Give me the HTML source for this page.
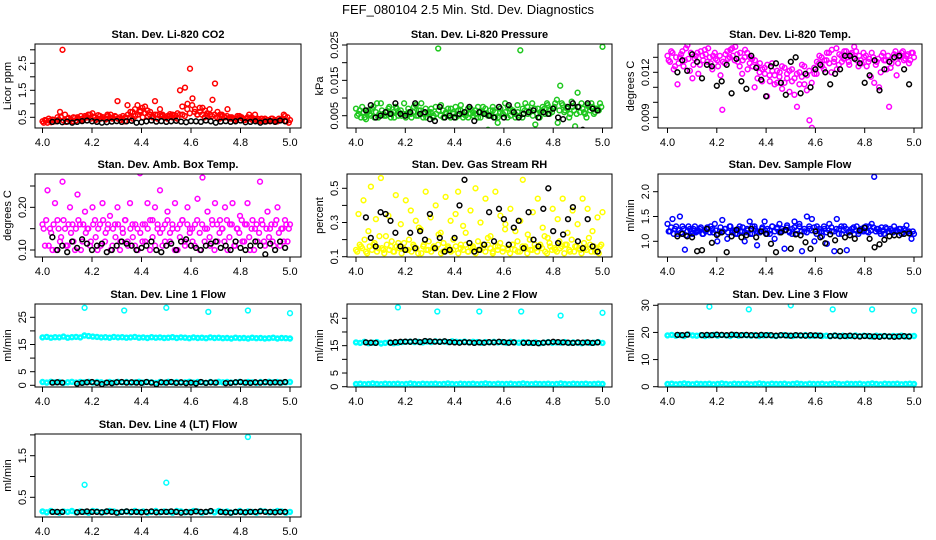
<!DOCTYPE html>
<html><head><meta charset="utf-8"><style>
html,body{margin:0;padding:0;background:#fff}
svg{display:block;font-family:"Liberation Sans",Arial,sans-serif}
</style></head><body>
<svg id="chart" width="936" height="540" viewBox="0 0 936 540">
<rect width="936" height="540" fill="#fff"/>
<text x="468" y="14" text-anchor="middle" font-size="13">FEF_080104  2.5 Min. Std. Dev. Diagnostics</text>
</svg>
<script>
const xTicks=[4.0,4.2,4.4,4.6,4.8,5.0];
const xTickLabels=["4.0","4.2","4.4","4.6","4.8","5.0"];
const co2Red=[0.35,0.4,0.3,0.38,0.42,0.35,0.5,0.7,3.0,0.6,0.45,0.4,0.35,0.48,0.5,0.4,0.45,0.55,0.5,0.6,0.65,0.5,0.45,0.55,0.5,0.45,0.6,0.5,0.45,0.55,1.1,0.5,0.45,0.35,0.95,0.5,0.7,0.8,0.95,0.7,0.85,0.9,0.75,0.6,0.55,1.1,0.6,0.8,0.55,0.5,0.45,0.55,0.6,0.5,0.65,1.5,0.6,1.6,1.0,2.3,1.2,0.8,0.6,0.7,0.85,0.75,0.55,0.6,1.15,1.75,0.7,0.6,0.55,0.5,0.8,0.5,0.45,0.4,0.55,0.5,0.45,0.4,0.5,0.45,0.4,0.6,0.45,0.4,0.35,0.45,0.4,0.35,0.45,0.4,0.35,0.4,0.45,0.55,0.5,0.4];
const co2Red2=[0.3,0.38,0.45,0.32,0.4,0.36,0.42,0.5,0.38,0.33,0.48,0.42,0.5,0.38,0.45,0.55,0.4,0.5,0.6,0.45,0.52,0.4,0.58,0.45,0.5,0.42,0.55,0.6,0.48,0.52,0.45,0.4,0.55,0.5,0.6,0.7,0.45,0.55,0.6,0.75,0.5,0.65,0.55,0.7,0.5,0.6,0.45,0.55,0.6,0.5,0.55,0.62,0.5,0.58,0.45,0.6,0.9,0.55,0.8,0.65,0.95,0.7,0.6,0.85,0.6,0.5,0.65,0.8,0.55,0.6,0.5,0.45,0.6,0.5,0.55,0.45,0.5,0.4,0.45,0.55,0.5,0.4,0.45,0.6,0.5,0.45,0.4,0.35,0.45,0.4,0.35,0.4,0.45,0.38,0.35,0.45,0.4,0.6,0.35,0.3];
const co2Black=[0.33,0.35,0.32,0.34,0.3,0.33,0.36,0.38,0.35,0.33,0.3,0.32,0.34,0.36,0.33,0.35,0.37,0.3,0.32,0.35,0.38,0.34,0.36,0.33,0.35,0.37,0.34,0.32,0.36,0.35,0.33,0.38,0.35,0.3,0.34,0.36,0.33,0.35,0.38,0.32,0.33,0.35,0.3,0.34,0.36,0.33,0.38,0.35];
const presGreen=[0.007,0.0055,0.0045,0.006,0.004,0.0065,0.005,0.0075,0.006,0.0045,0.0085,0.0055,0.005,0.007,0.0045,0.006,0.0075,0.005,0.0065,0.0055,0.0045,0.007,0.0055,0.006,0.008,0.005,0.0065,0.0045,0.007,0.0055,0.006,0.0045,0.0075,0.024,0.005,0.0065,0.0055,0.007,0.0045,0.006,0.0075,0.005,0.0065,0.0045,0.006,0.007,0.0055,0.005,0.0065,0.0045,0.006,0.0075,0.0055,0.001,0.005,0.0065,0.006,0.0045,0.007,0.0055,0.006,0.0075,0.005,0.0065,0.0045,0.006,0.0235,0.007,0.0085,0.0055,0.0065,0.005,0.0025,0.007,0.006,0.0075,0.0055,0.008,0.0065,0.007,0.0085,0.003,0.0135,0.008,0.0065,0.007,0.0055,0.0075,0.002,0.0115,0.006,0.007,0.0055,0.008,0.0065,0.0075,0.006,0.007,0.0085,0.0245];
const presGreen2=[0.005,0.0065,0.0075,0.0045,0.006,0.0055,0.007,0.0045,0.0085,0.0055,0.0065,0.005,0.006,0.0075,0.0055,0.0045,0.007,0.006,0.005,0.0085,0.0055,0.006,0.0045,0.0075,0.005,0.0065,0.0085,0.0055,0.0045,0.006,0.007,0.005,0.0055,0.0065,0.008,0.0045,0.006,0.005,0.007,0.0055,0.0045,0.0065,0.008,0.0055,0.005,0.0045,0.007,0.006,0.0055,0.0075,0.0045,0.006,0.007,0.005,0.0065,0.0075,0.0045,0.003,0.006,0.0055,0.0085,0.0045,0.007,0.006,0.0055,0.008,0.005,0.0045,0.0065,0.0075,0.006,0.0085,0.007,0.0055,0.0045,0.0065,0.007,0.0085,0.0055,0.006,0.0075,0.0095,0.0065,0.0085,0.006,0.0075,0.0045,0.009,0.0065,0.0055,0.0075,0.0085,0.006,0.0045,0.0075,0.0085,0.0055,0.007,0.0065,0.0075];
const presBlack=[0.0065,0.008,0.0045,0.005,0.006,0.0055,0.0085,0.0055,0.005,0.006,0.0085,0.0055,0.006,0.004,0.0035,0.0075,0.0045,0.005,0.0045,0.0055,0.006,0.0075,0.0035,0.006,0.0055,0.005,0.0045,0.0075,0.0045,0.008,0.006,0.0045,0.0055,0.006,0.0065,0.0045,0.006,0.0055,0.007,0.0045,0.004,0.0075,0.0085,0.0075,0.001,0.0085,0.007,0.0065];
const tempMag=[0.0131,0.0127,0.0133,0.0124,0.0112,0.0130,0.0134,0.0128,0.0138,0.0121,0.0116,0.0129,0.0133,0.0125,0.0131,0.0135,0.0127,0.0130,0.0122,0.0133,0.0128,0.0131,0.0095,0.0126,0.0134,0.0130,0.0136,0.0128,0.0132,0.0124,0.0119,0.0130,0.0133,0.0126,0.0129,0.0110,0.0124,0.0120,0.0114,0.0123,0.0104,0.0118,0.0126,0.0112,0.0121,0.0117,0.0124,0.0113,0.0119,0.0107,0.0122,0.0116,0.0097,0.0120,0.0125,0.0112,0.0118,0.0088,0.0083,0.0119,0.0127,0.0131,0.0124,0.0128,0.0133,0.0126,0.0135,0.0129,0.0122,0.0132,0.0127,0.0134,0.0130,0.0125,0.0133,0.0137,0.0128,0.0131,0.0126,0.0130,0.0124,0.0129,0.0133,0.0113,0.0127,0.0110,0.0131,0.0128,0.0122,0.0097,0.0126,0.0132,0.0118,0.0130,0.0133,0.0128,0.0131,0.0126,0.0133,0.0130];
const tempMag2=[0.0128,0.0134,0.0122,0.0130,0.0126,0.0132,0.0124,0.0136,0.0129,0.0133,0.0125,0.0131,0.0119,0.0134,0.0128,0.0132,0.0136,0.0126,0.0131,0.0129,0.0124,0.0118,0.0127,0.0132,0.0129,0.0135,0.0131,0.0137,0.0127,0.0133,0.0128,0.0135,0.0122,0.0130,0.0124,0.0128,0.0116,0.0126,0.0122,0.0119,0.0125,0.0114,0.0121,0.0118,0.0113,0.0120,0.0109,0.0123,0.0116,0.0121,0.0114,0.0105,0.0119,0.0112,0.0117,0.0124,0.0108,0.0121,0.0113,0.0123,0.0119,0.0126,0.0130,0.0122,0.0128,0.0133,0.0120,0.0127,0.0136,0.0125,0.0131,0.0129,0.0134,0.0127,0.0132,0.0130,0.0134,0.0124,0.0128,0.0133,0.0131,0.0127,0.0117,0.0130,0.0125,0.0129,0.0120,0.0133,0.0128,0.0131,0.0123,0.0129,0.0134,0.0126,0.0131,0.0134,0.0129,0.0132,0.0128,0.0133];
const tempBlack=[0.0120,0.0128,0.0121,0.0132,0.0127,0.0116,0.0125,0.0124,0.0111,0.0114,0.0125,0.0106,0.0129,0.0114,0.0109,0.0131,0.0123,0.0115,0.0104,0.0124,0.0126,0.0113,0.0105,0.0127,0.0130,0.0106,0.0119,0.0110,0.0122,0.0125,0.0120,0.0112,0.0119,0.0122,0.0131,0.0131,0.0129,0.0126,0.0113,0.0118,0.0128,0.0108,0.0122,0.0127,0.0130,0.0131,0.0122,0.0112];
const ambMag=[0.16,0.11,0.24,0.15,0.10,0.21,0.17,0.12,0.26,0.15,0.11,0.20,0.16,0.10,0.23,0.16,0.12,0.19,0.15,0.11,0.20,0.17,0.10,0.16,0.21,0.12,0.15,0.18,0.11,0.16,0.20,0.10,0.15,0.17,0.12,0.21,0.16,0.11,0.15,0.28,0.12,0.16,0.21,0.10,0.17,0.20,0.15,0.24,0.11,0.16,0.19,0.12,0.15,0.21,0.10,0.16,0.17,0.11,0.20,0.15,0.12,0.16,0.22,0.10,0.27,0.15,0.19,0.11,0.16,0.21,0.12,0.17,0.15,0.20,0.10,0.16,0.21,0.11,0.15,0.18,0.12,0.16,0.21,0.10,0.17,0.15,0.12,0.26,0.16,0.11,0.19,0.15,0.12,0.16,0.20,0.11,0.15,0.17,0.12,0.16];
const ambMag2=[0.15,0.17,0.11,0.14,0.16,0.10,0.15,0.13,0.17,0.11,0.16,0.14,0.12,0.15,0.17,0.10,0.16,0.14,0.15,0.12,0.16,0.13,0.15,0.11,0.17,0.14,0.16,0.10,0.15,0.13,0.16,0.12,0.14,0.17,0.11,0.15,0.13,0.16,0.10,0.14,0.16,0.12,0.15,0.17,0.13,0.11,0.16,0.14,0.15,0.12,0.17,0.14,0.16,0.10,0.15,0.13,0.17,0.12,0.16,0.14,0.15,0.11,0.17,0.14,0.16,0.12,0.15,0.13,0.17,0.10,0.16,0.14,0.15,0.12,0.17,0.13,0.16,0.11,0.15,0.14,0.17,0.12,0.16,0.13,0.15,0.10,0.16,0.14,0.17,0.12,0.15,0.13,0.16,0.11,0.17,0.14,0.15,0.12,0.16,0.15];
const ambBlack=[0.13,0.10,0.11,0.095,0.12,0.105,0.125,0.115,0.10,0.11,0.115,0.095,0.10,0.11,0.12,0.115,0.11,0.10,0.105,0.11,0.12,0.10,0.095,0.11,0.115,0.10,0.12,0.125,0.11,0.105,0.10,0.11,0.115,0.12,0.105,0.11,0.10,0.12,0.105,0.10,0.11,0.12,0.11,0.09,0.115,0.10,0.12,0.105];
const rhYellow=[0.14,0.35,0.16,0.43,0.13,0.25,0.51,0.17,0.32,0.15,0.56,0.14,0.22,0.34,0.16,0.13,0.46,0.18,0.29,0.15,0.43,0.14,0.37,0.17,0.31,0.12,0.26,0.16,0.48,0.14,0.33,0.15,0.40,0.17,0.24,0.13,0.45,0.16,0.31,0.14,0.35,0.48,0.15,0.28,0.17,0.13,0.37,0.16,0.50,0.14,0.30,0.15,0.44,0.17,0.22,0.13,0.48,0.16,0.34,0.15,0.29,0.14,0.38,0.17,0.25,0.13,0.31,0.55,0.16,0.23,0.14,0.36,0.15,0.44,0.17,0.27,0.13,0.21,0.16,0.38,0.14,0.32,0.15,0.44,0.17,0.24,0.13,0.37,0.16,0.29,0.14,0.44,0.15,0.38,0.17,0.25,0.13,0.33,0.16,0.36];
const rhYellow2=[0.13,0.17,0.15,0.2,0.12,0.16,0.14,0.18,0.13,0.22,0.15,0.12,0.17,0.14,0.19,0.13,0.16,0.15,0.12,0.18,0.14,0.2,0.13,0.16,0.15,0.27,0.12,0.17,0.14,0.19,0.13,0.16,0.15,0.23,0.12,0.18,0.14,0.15,0.13,0.2,0.16,0.12,0.17,0.14,0.24,0.13,0.16,0.15,0.12,0.19,0.14,0.17,0.13,0.21,0.15,0.12,0.16,0.14,0.18,0.13,0.26,0.15,0.12,0.17,0.14,0.19,0.13,0.16,0.15,0.12,0.2,0.14,0.17,0.13,0.16,0.15,0.22,0.12,0.18,0.14,0.15,0.13,0.19,0.16,0.12,0.17,0.14,0.2,0.13,0.16,0.15,0.12,0.18,0.14,0.21,0.13,0.16,0.15,0.12,0.17];
const rhBlack=[0.33,0.21,0.16,0.36,0.35,0.31,0.24,0.16,0.14,0.24,0.15,0.25,0.20,0.35,0.15,0.21,0.13,0.14,0.21,0.40,0.55,0.18,0.13,0.14,0.17,0.36,0.19,0.38,0.32,0.17,0.27,0.31,0.15,0.36,0.20,0.16,0.38,0.50,0.25,0.18,0.23,0.32,0.39,0.19,0.15,0.32,0.16,0.13];
const flowBlue=[1.35,1.2,1.45,1.25,1.15,1.5,1.3,0.83,1.2,1.25,1.15,1.3,1.2,1.25,1.15,1.22,1.28,1.18,1.25,1.35,1.0,1.2,1.43,1.25,1.05,1.3,1.18,1.22,1.15,1.3,1.2,1.0,1.25,1.4,1.15,1.3,0.92,1.2,1.25,1.4,1.15,1.22,1.3,1.05,1.25,1.35,1.2,0.85,1.28,1.18,1.25,1.4,1.15,1.3,0.8,1.2,1.5,1.25,1.45,1.0,1.3,1.2,1.1,1.25,0.95,1.35,1.2,0.8,1.45,1.25,1.15,1.3,0.82,1.2,1.25,1.15,1.3,1.2,1.22,1.28,1.2,1.3,1.35,2.3,1.25,1.2,1.28,1.15,1.25,1.2,1.22,1.3,1.2,1.25,1.15,1.25,1.32,1.2,1.05,1.15];
const flowBlue2=[1.2,1.28,1.15,1.3,1.22,1.18,1.25,1.12,1.3,1.2,1.25,1.18,1.22,1.28,1.15,1.2,1.25,1.3,1.18,1.22,1.15,1.28,1.2,1.25,1.18,1.3,1.22,1.15,1.25,1.2,1.28,1.18,1.22,1.15,1.3,1.25,1.2,1.18,1.28,1.22,1.25,1.15,1.3,1.2,1.28,1.18,1.25,1.22,1.32,1.2,1.15,1.28,1.22,1.35,1.2,1.25,1.18,1.3,1.22,1.28,1.15,1.25,1.2,1.3,1.18,1.22,1.28,1.2,1.25,1.15,1.3,1.22,1.25,1.18,1.2,1.28,1.22,1.15,1.25,1.2,1.3,1.18,1.22,1.28,1.2,1.25,1.15,1.22,1.28,1.2,1.25,1.18,1.22,1.2,1.25,1.18,1.22,1.2,1.15,1.2];
const flowBlack=[1.1,1.15,1.1,1.08,0.8,0.82,1.25,0.97,1.13,1.18,0.78,1.1,1.23,1.08,1.12,1.25,1.08,1.2,1.15,0.95,0.78,1.18,1.23,0.85,1.14,1.12,0.98,0.85,1.2,1.08,0.96,1.14,1.02,0.8,1.08,1.12,1.05,1.22,1.27,1.05,0.88,0.94,1.03,1.1,1.12,1.12,1.15,1.16];
const outlierX=[4.17,4.33,4.5,4.67,4.83,5.0];
const line1High=[17.6,17.8,17.5,17.7,17.6,17.9,17.5,17.7,17.8,17.6,18.3,18.1,17.9,17.8,17.6,17.7,17.5,17.8,17.6,17.7,17.5,17.6,17.8,17.5,17.6,17.4,17.7,17.5,17.6,17.4,17.5,17.7,17.4,17.6,17.5,17.3,17.6,17.4,17.5,17.3,17.6,17.4,17.5,17.3,17.4,17.2,17.5,17.3,17.4,17.2,17.5,17.3,17.4,17.2,17.3,17.5,17.2,17.4,17.3,17.2];
const line1Low=[1.2,1.0,1.3,1.1,1.2,0.9,1.1,1.3,1.0,1.2,1.1,1.3,1.0,1.2,1.1,0.9,1.2,1.0,1.3,1.1,1.2,1.0,1.1,1.3,1.0,1.2,1.1,0.9,1.2,1.0,1.3,1.1,1.2,1.0,1.1,1.3,1.0,1.2,1.1,0.9,1.2,1.0,1.3,1.1,1.2,1.0,1.1,1.3,1.0,1.2,1.1,0.9,1.2,1.0,1.3,1.1,1.2,1.0,1.1,1.2];
const line1Out=[28.5,27.5,28.5,27,27.5,26.5];
const line1Black=[1.0,1.1,1.0,null,null,0.6,0.9,1.1,1.2,0.9,0.4,1.0,0.8,1.1,1.2,1.0,1.1,1.0,0.9,1.2,1.0,0.4,1.1,1.0,1.2,0.9,1.1,0.8,1.0,0.7,1.2,0.9,1.1,1.0,null,0.8,0.9,1.1,1.2,1.0,0.9,1.1,1.0,1.2,1.0,1.1,1.0,1.2];
const line2High=[16.2,16.0,16.4,15.9,16.1,16.3,15.8,16.0,16.2,15.9,16.1,16.3,16.4,16.5,16.3,16.4,16.2,16.5,16.3,16.6,16.4,16.5,16.3,16.6,16.4,16.3,16.5,16.2,16.4,16.3,16.1,16.3,16.2,16.4,16.2,16.3,16.1,16.4,16.2,16.1,16.3,16.2,16.0,16.2,15.9,16.1,16.3,16.0,16.2,16.1,16.3,16.0,16.2,16.1,15.9,16.2,16.0,16.1,16.3,16.0];
const line2Low=[1.0,1.1,0.9,1.0,1.2,1.0,0.9,1.1,1.0,1.0,1.1,0.9,1.0,1.2,1.0,0.9,1.1,1.0,1.0,1.1,0.9,1.0,1.2,1.0,0.9,1.1,1.0,1.0,1.1,0.9,1.0,1.2,1.0,0.9,1.1,1.0,1.0,1.1,0.9,1.0,1.2,1.0,0.9,1.1,1.0,1.0,1.1,0.9,1.0,1.2,1.0,0.9,1.1,1.0,1.0,1.1,0.9,1.0,1.1,1.0];
const line2Out=[29,27.5,27.5,27.5,26,27];
const line2Black=[16.2,16.1,16.0,null,null,16.1,16.3,16.4,16.5,16.4,16.6,16.3,16.7,16.6,16.5,16.4,16.6,16.3,16.2,16.1,16.3,16.2,16.0,16.2,16.1,16.3,16.2,16.4,16.3,16.1,16.2,null,16.0,16.1,16.0,15.9,16.1,16.2,16.4,16.3,16.2,16.1,16.0,16.2,16.1,16.2,16.0,16.2];
const line3High=[18.9,19.1,18.8,19.0,18.7,19.2,18.9,18.8,19.0,18.7,18.9,19.1,18.8,19.0,18.9,18.7,19.1,18.8,19.0,18.9,18.8,19.0,18.7,18.9,19.0,18.8,18.7,18.9,19.0,18.8,18.7,18.9,18.8,19.0,18.7,18.8,18.9,18.7,18.8,18.6,18.9,18.7,18.8,18.6,18.7,18.9,18.6,18.8,18.7,18.5,18.8,18.6,18.7,18.5,18.7,18.6,18.8,18.5,18.6,18.7];
const line3Low=[1.0,1.1,0.9,1.0,1.2,1.0,0.9,1.1,1.0,1.0,1.1,0.9,1.0,1.2,1.0,0.9,1.1,1.0,1.0,1.1,0.9,1.0,1.2,1.0,0.9,1.1,1.0,1.0,1.1,0.9,1.0,1.2,1.0,0.9,1.1,1.0,1.0,1.1,0.9,1.0,1.2,1.0,0.9,1.1,1.0,1.0,1.1,0.9,1.0,1.2,1.0,0.9,1.1,1.0,1.0,1.1,0.9,1.0,1.1,1.0];
const line3Out=[29.5,28.5,30,28.5,28.5,28];
const line3Black=[19.1,19.0,19.2,null,null,19.0,19.1,19.0,19.2,19.1,19.0,19.2,19.1,19.0,19.1,19.0,18.9,19.1,19.0,19.0,18.8,19.0,18.9,18.8,19.0,18.9,18.8,19.0,18.9,18.8,null,18.7,18.8,18.6,18.7,18.8,18.6,18.5,18.7,18.6,18.5,18.4,18.6,18.5,18.4,18.5,18.6,18.5];
const line4Cyan=[0.16,0.14,0.17,0.15,0.13,0.16,0.15,0.17,0.14,0.16,0.15,0.13,0.17,0.16,0.14,0.15,0.17,0.16,0.13,0.15,0.16,0.14,0.17,0.15,0.16,0.13,0.15,0.17,0.14,0.16,0.15,0.13,0.17,0.16,0.14,0.15,0.17,0.16,0.13,0.15,0.16,0.14,0.17,0.15,0.16,0.13,0.15,0.17,0.14,0.16,0.15,0.13,0.17,0.16,0.14,0.15,0.17,0.16,0.13,0.15];
const line4OutX=[4.17,4.5,4.83];
const line4Out=[0.8,0.85,1.95];
const line4Black=[0.15,0.15,0.15,null,null,0.14,0.15,0.16,0.15,0.15,0.14,0.16,0.15,0.13,0.15,0.16,0.15,0.15,0.14,0.15,0.16,0.14,0.15,0.15,0.16,0.15,0.13,0.15,0.14,0.16,0.15,0.15,0.17,null,0.15,0.14,0.13,0.15,0.15,0.14,0.15,0.15,0.16,0.15,0.15,0.14,0.15,0.15];

const svg=document.getElementById('chart');
const NS='http://www.w3.org/2000/svg';
function mk(tag,attrs,parent){const e=document.createElementNS(NS,tag);for(const k in attrs)e.setAttribute(k,attrs[k]);(parent||svg).appendChild(e);return e;}
const cols=[{fl:35,fr:301,x4:42.5,x5:290},{fl:347,fr:612,x4:356,x5:602.5},{fl:658,fr:922,x4:667.5,x5:914}];
const rows=[{t:44,b:128},{t:174,b:257},{t:304,b:387},{t:434,b:517}];
function even(n){const a=[];for(let i=0;i<n;i++)a.push(4+i/(n-1));return a;}
function evenOff(n){const a=[];for(let i=0;i<n;i++)a.push(4+(i+0.5)/n);return a;}
function blackX(n){const a=[];for(let i=0;i<n;i++)a.push(4+(i+2)/50);return a;}
const BAND={r:2,sw:2.4};

const panels=[
 {name:'co2',title:'Stan. Dev. Li-820 CO2',ylab:'Licor ppm',c:0,r:0,v1:0.5,p1:117.3,v2:2.5,p2:63.3,ticks:[0.5,1,1.5,2,2.5,3],labels:{'0.5':'0.5','1.5':'1.5','2.5':'2.5'},
  series:[{x:even(co2Red.length),y:co2Red,col:'#ff0000'},{x:evenOff(co2Red2.length),y:co2Red2,col:'#ff0000'},{x:blackX(co2Black.length),y:co2Black,col:'#000'}]},
 {name:'pressure',title:'Stan. Dev. Li-820 Pressure',ylab:'kPa',c:1,r:0,v1:0.005,p1:115.7,v2:0.025,p2:45,ticks:[0.005,0.01,0.015,0.02,0.025],labels:{'0.005':'0.005','0.015':'0.015','0.025':'0.025'},
  series:[{x:even(presGreen.length),y:presGreen,col:'#1ec81e'},{x:evenOff(presGreen2.length),y:presGreen2,col:'#1ec81e'},{x:blackX(presBlack.length),y:presBlack,col:'#000'}]},
 {name:'temp',title:'Stan. Dev. Li-820 Temp.',ylab:'degrees C',c:2,r:0,v1:0.009,p1:117.3,v2:0.012,p2:72.3,ticks:[0.009,0.010,0.011,0.012,0.013],labels:{'0.009':'0.009','0.012':'0.012'},
  series:[{x:even(tempMag.length),y:tempMag,col:'#ff00ff'},{x:evenOff(tempMag2.length),y:tempMag2,col:'#ff00ff'},{x:blackX(tempBlack.length),y:tempBlack,col:'#000'}]},
 {name:'amb-box',title:'Stan. Dev. Amb. Box Temp.',ylab:'degrees C',c:0,r:1,v1:0.10,p1:250,v2:0.25,p2:186,ticks:[0.10,0.15,0.20,0.25],labels:{'0.1':'0.10','0.2':'0.20'},
  series:[{x:even(ambMag.length),y:ambMag,col:'#ff00ff'},{x:evenOff(ambMag2.length),y:ambMag2,col:'#ff00ff'},{x:blackX(ambBlack.length),y:ambBlack,col:'#000'}]},
 {name:'rh',title:'Stan. Dev. Gas Stream RH',ylab:'percent',c:1,r:1,v1:0.1,p1:256.7,v2:0.5,p2:188.3,ticks:[0.1,0.2,0.3,0.4,0.5],labels:{'0.1':'0.1','0.3':'0.3','0.5':'0.5'},
  series:[{x:even(rhYellow.length),y:rhYellow,col:'#ffff00'},{x:evenOff(rhYellow2.length),y:rhYellow2,col:'#ffff00'},{x:blackX(rhBlack.length),y:rhBlack,col:'#000'}]},
 {name:'sample-flow',title:'Stan. Dev. Sample Flow',ylab:'ml/min',c:2,r:1,v1:1.0,p1:241.3,v2:2.0,p2:191.7,ticks:[1.0,1.5,2.0],labels:{'1':'1.0','1.5':'1.5','2':'2.0'},
  series:[{x:even(flowBlue.length),y:flowBlue,col:'#0000ff'},{x:evenOff(flowBlue2.length),y:flowBlue2,col:'#0000ff'},{x:blackX(flowBlack.length),y:flowBlack,col:'#000'}]},
 {name:'line1',title:'Stan. Dev. Line 1 Flow',ylab:'ml/min',c:0,r:2,v1:0,p1:385.3,v2:25,p2:317.3,ticks:[0,5,10,15,20,25],labels:{'0':'0','5':'5','15':'15','25':'25'},
  series:[{x:even(line1High.length),y:line1High,col:'#00ffff',band:1},{x:even(line1Low.length),y:line1Low,col:'#00ffff',band:1},{x:outlierX,y:line1Out,col:'#00ffff'},{x:blackX(line1Black.length),y:line1Black,col:'#000'}]},
 {name:'line2',title:'Stan. Dev. Line 2 Flow',ylab:'ml/min',c:1,r:2,v1:0,p1:386.7,v2:25,p2:318.3,ticks:[0,5,10,15,20,25],labels:{'0':'0','5':'5','15':'15','25':'25'},
  series:[{x:even(line2High.length),y:line2High,col:'#00ffff',band:1},{x:even(line2Low.length),y:line2Low,col:'#00ffff',band:1},{x:outlierX,y:line2Out,col:'#00ffff'},{x:blackX(line2Black.length),y:line2Black,col:'#000'}]},
 {name:'line3',title:'Stan. Dev. Line 3 Flow',ylab:'ml/min',c:2,r:2,v1:0,p1:386.7,v2:30,p2:305.3,ticks:[0,10,20,30],labels:{'0':'0','10':'10','20':'20','30':'30'},
  series:[{x:even(line3High.length),y:line3High,col:'#00ffff',band:1},{x:even(line3Low.length),y:line3Low,col:'#00ffff',band:1},{x:outlierX,y:line3Out,col:'#00ffff'},{x:blackX(line3Black.length),y:line3Black,col:'#000'}]},
 {name:'line4',title:'Stan. Dev. Line 4 (LT) Flow',ylab:'ml/min',c:0,r:3,v1:0.5,p1:497.3,v2:1.5,p2:455.7,ticks:[0.5,1.0,1.5,2.0],labels:{'0.5':'0.5','1.5':'1.5'},
  series:[{x:even(line4Cyan.length),y:line4Cyan,col:'#00ffff',band:1},{x:line4OutX,y:line4Out,col:'#00ffff'},{x:blackX(line4Black.length),y:line4Black,col:'#000'}]}
];

panels.forEach(p=>{
  const C=cols[p.c],R=rows[p.r];
  const g=mk('g',{});
  
  
  const xs=v=>C.x4+(v-4)*(C.x5-C.x4);
  const ys=v=>p.p1+(v-p.v1)*(p.p2-p.p1)/(p.v2-p.v1);
  const t=mk('text',{x:(C.fl+C.fr)/2,y:R.t-6,'text-anchor':'middle','font-size':11,'font-weight':'bold'},g);
  t.textContent=p.title;
  
  
  const clipId='clip-'+p.name;
  const cp=mk('clipPath',{id:clipId},g);mk('rect',{x:C.fl,y:R.t,width:C.fr-C.fl,height:R.b-R.t},cp);
  const pts=mk('g',{'clip-path':'url(#'+clipId+')',fill:'none'},g);
  
  
  p.series.forEach(s=>{
    const rr=s.band?BAND.r:2.4, sw=s.band?BAND.sw:1.5;
    s.y.forEach((v,i)=>{
      if(v===null)return;
      const c=mk('circle',{cx:xs(s.x[i]).toFixed(1),cy:ys(v).toFixed(1),r:rr,stroke:s.col,'stroke-width':sw},pts);
      
      
    });
  });
  const fr=mk('rect',{x:C.fl,y:R.t,width:C.fr-C.fl,height:R.b-R.t,fill:'none',stroke:'#000','stroke-width':1},g);
  
  
  const xa=mk('g',{},g);
  
  
  mk('line',{x1:xs(4),x2:xs(5),y1:R.b,y2:R.b,stroke:'#000'},xa);
  xTicks.forEach((v,i)=>{
    mk('line',{x1:xs(v),x2:xs(v),y1:R.b,y2:R.b+5,stroke:'#000'},xa);
    const l=mk('text',{x:xs(v),y:R.b+18,'text-anchor':'middle','font-size':11},xa);
    l.textContent=xTickLabels[i];
  });
  const ya=mk('g',{},g);
  
  
  mk('line',{x1:C.fl,x2:C.fl,y1:ys(p.ticks[0]),y2:ys(p.ticks[p.ticks.length-1]),stroke:'#000'},ya);
  p.ticks.forEach(v=>{
    const y=ys(v);
    mk('line',{x1:C.fl-5,x2:C.fl,y1:y,y2:y,stroke:'#000'},ya);
    const key=String(+v.toFixed(4));
    if(p.labels[key]!==undefined){
      const l=mk('text',{x:C.fl-9,y:y,'text-anchor':'middle','font-size':11,transform:'rotate(-90 '+(C.fl-9)+' '+y+')'},ya);
      l.textContent=p.labels[key];
    }
  });
  const cy=(R.t+R.b)/2,cx=C.fl-24;
  const yl=mk('text',{x:cx,y:cy,'text-anchor':'middle','font-size':11,transform:'rotate(-90 '+cx+' '+cy+')'},g);
  yl.textContent=p.ylab;
  
  
});
</script>
</body></html>
